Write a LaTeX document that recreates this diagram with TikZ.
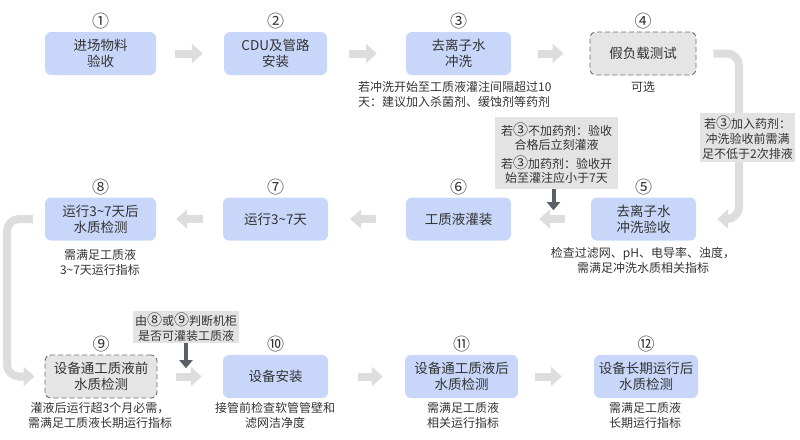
\documentclass[tikz,border=0pt]{standalone}
\usepackage{fontspec}
\setmainfont{Noto Sans CJK SC}
\usetikzlibrary{arrows.meta}
\definecolor{boxblue}{HTML}{C8D7F9}
\definecolor{boxgray}{HTML}{E5E5E5}
\definecolor{dashgray}{HTML}{6E6E6E}
\definecolor{notegray}{HTML}{E3E3E3}
\definecolor{arrgray}{HTML}{DDDDDD}
\definecolor{darkarr}{HTML}{5B6068}
\definecolor{txt}{HTML}{333333}
\newcommand{\circnum}[1]{{\fontsize{15}{14}\selectfont #1}}
\begin{document}
\begin{tikzpicture}[x=1pt,y=-1pt,
  box/.style={rounded corners=6pt, fill=boxblue, minimum height=43pt, inner sep=0pt, align=center, text=txt, font=\fontsize{13.5}{16}\selectfont},
  dbox/.style={box, fill=boxgray, draw=dashgray, dash pattern=on 5pt off 3pt, line width=0.9pt},
  num/.style={text=txt, inner sep=0pt, font=\fontsize{17}{17}\selectfont},
  note/.style={text=txt, inner sep=0pt, align=center, font=\fontsize{12}{15}\selectfont},
  gnote/.style={fill=notegray, inner sep=0pt, align=center, text=txt, font=\fontsize{12}{14}\selectfont},
  bigarrow/.style={draw=arrgray, line width=8pt, -{Triangle[length=11pt,width=19pt]}},
  darrow/.style={draw=darkarr, line width=4pt, -{Triangle[length=8pt,width=13pt]}}]
\useasboundingbox (0,0) rectangle (800,439);

% row 1
\node[box, minimum width=111pt] (n1) at (100.5,53.5) {进场物料\\验收};
\node[box, minimum width=103pt] (n2) at (275.5,53.5) {CDU及管路\\安装};
\node[box, minimum width=105pt] (n3) at (458.5,53.5) {去离子水\\冲洗};
\node[dbox, minimum width=106pt] (n4) at (643,53.5) {假负载测试};
% row 2
\node[box, minimum width=105pt] (n5) at (643.5,219) {去离子水\\冲洗验收};
\node[box, minimum width=105pt] (n6) at (458.5,219) {工质液灌装};
\node[box, minimum width=105pt] (n7) at (275.5,219) {运行3\textasciitilde7天};
\node[box, minimum width=111pt] (n8) at (100.5,219) {运行3\textasciitilde7天后\\水质检测};
% row 3
\node[dbox, minimum width=112pt] (n9) at (101,376.5) {设备通工质液前\\水质检测};
\node[box, minimum width=105pt] (n10) at (275.5,376.5) {设备安装};
\node[box, minimum width=113pt] (n11) at (461.5,376.5) {设备通工质液后\\水质检测};
\node[box, minimum width=104pt] (n12) at (646,376.5) {设备长期运行后\\水质检测};

% circled numbers
\node[num] (c1) at ([yshift=10.5pt]n1.north) {①};
\node[num] (c2) at ([yshift=10.5pt]n2.north) {②};
\node[num] (c3) at ([yshift=10.5pt]n3.north) {③};
\node[num] (c4) at ([yshift=10.5pt]n4.north) {④};
\node[num] (c5) at ([yshift=10.5pt]n5.north) {⑤};
\node[num] (c6) at ([yshift=10.5pt]n6.north) {⑥};
\node[num] (c7) at ([yshift=10.5pt]n7.north) {⑦};
\node[num] (c8) at ([yshift=10.5pt]n8.north) {⑧};
\node[num] (c9) at ([yshift=10.5pt]n9.north) {⑨};
\node[num] (c10) at ([yshift=10.5pt]n10.north) {⑩};
\node[num] (c11) at ([yshift=10.5pt]n11.north) {⑪};
\node[num] (c12) at ([yshift=10.5pt]n12.north) {⑫};

% notes under boxes
\node[note, anchor=west, align=left] (t3) at (358,94.5) {若冲洗开始至工质液灌注间隔超过10\\天：建议加入杀菌剂、缓蚀剂等药剂};
\node[note] (t4) at (643,87) {可选};
\node[note] (t5) at (643,260.5) {检查过滤网、pH、电导率、浊度，\\需满足冲洗水质相关指标};
\node[note] (t8) at (100,262.5) {需满足工质液\\3\textasciitilde7天运行指标};
\node[note] (t9) at (100,415.5) {灌液后运行超3个月必需，\\需满足工质液长期运行指标};
\node[note] (t10) at (275,415.5) {接管前检查软管管壁和\\滤网洁净度};
\node[note] (t11) at (463,415.5) {需满足工质液\\相关运行指标};
\node[note] (t12) at (645,415.5) {需满足工质液\\长期运行指标};

% straight gray arrows
\draw[bigarrow] ([xshift=19pt]n1.east) -- ([xshift=-21pt]n2.west);
\draw[bigarrow] ([xshift=22pt]n2.east) -- ([xshift=-29pt]n3.west);
\draw[bigarrow] ([xshift=27pt]n3.east) -- ([xshift=-26pt]n4.west);
\draw[bigarrow] ([xshift=-26pt]n5.west) -- ([xshift=28pt]n6.east);
\draw[bigarrow] ([xshift=-30pt]n6.west) -- ([xshift=22pt]n7.east);
\draw[bigarrow] ([xshift=-20pt]n7.west) -- ([xshift=20pt]n8.east);
\draw[bigarrow] ([xshift=19pt]n9.east) -- ([xshift=-21pt]n10.west);
\draw[bigarrow] ([xshift=30pt]n10.east) -- ([xshift=-22pt]n11.west);
\draw[bigarrow] ([xshift=17pt]n11.east) -- ([xshift=-32pt]n12.west);

% bent connectors
\coordinate (r1) at (739,53.5);
\coordinate (r2) at (739,219);
\draw[bigarrow, rounded corners=12pt] ([xshift=17pt]n4.east) -- (r1) -- (r2) -- ([xshift=21pt]n5.east);
\coordinate (l1) at (7,219);
\coordinate (l2) at (7,376.5);
\draw[bigarrow, rounded corners=12pt] ([xshift=-12pt]n8.west) -- (l1) -- (l2) -- ([xshift=-10pt]n9.west);

% gray note boxes
\node[gnote, minimum width=123pt, minimum height=72pt] (na) at (556.5,153) {若\circnum{③}不加药剂：验收\\合格后立刻灌液\\[5pt]若\circnum{③}加药剂：验收开\\始至灌注应小于7天};
\node[gnote, minimum width=106pt, minimum height=32pt, font=\fontsize{12}{15}\selectfont] (nb) at (186,327) {由\circnum{⑧}或\circnum{⑨}判断机柜\\是否可灌装工质液};
\node[gnote, minimum width=95pt, minimum height=49pt, font=\fontsize{12}{15}\selectfont] (nc) at (747.5,137.5) {若\circnum{③}加入药剂：\\冲洗验收前需满\\足不低于2次排液};

% dark down arrows
\draw[darrow] ([xshift=-3pt]na.south) -- ([xshift=-3pt,yshift=-21pt]na.south);
\draw[darrow] (nb.south) -- ([yshift=-25pt]nb.south);
\end{tikzpicture}
\end{document}
